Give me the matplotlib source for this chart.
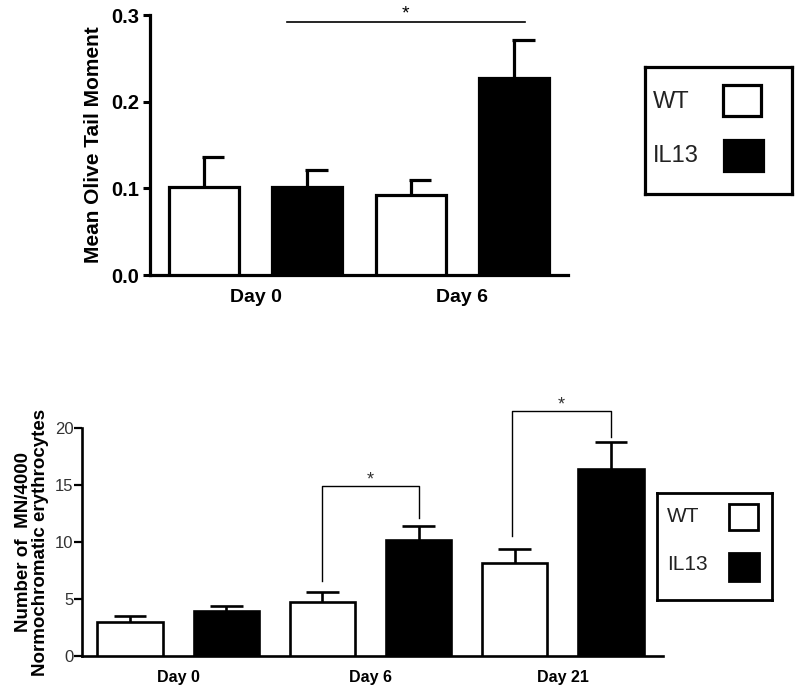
import numpy as np
import matplotlib.pyplot as plt
from matplotlib.patches import Rectangle

plt.rcParams['font.family'] = ['Liberation Sans', 'DejaVu Sans']

# top panel: comet assay
top_days = ["Day 0", "Day 6"]
top_wt = [0.101, 0.092]
top_wt_err = [0.035, 0.018]
top_il13 = [0.101, 0.227]
top_il13_err = [0.020, 0.044]

# bottom panel: micronuclei
bot_days = ["Day 0", "Day 6", "Day 21"]
bot_wt = [2.95, 4.7, 8.2]
bot_wt_err = [0.55, 0.9, 1.15]
bot_il13 = [3.95, 10.2, 16.4]
bot_il13_err = [0.45, 1.2, 2.4]

groups = ["WT", "IL13"]
colors = ["white", "black"]


def bars(ax, wt, wt_err, il, il_err, lw, cap_l, cap_r, width=0.68):
    n = len(wt)
    x_wt = np.arange(n) * 2
    x_il = x_wt + 1
    for xs, vals, errs, c in [(x_wt, wt, wt_err, colors[0]), (x_il, il, il_err, colors[1])]:
        vals = np.array(vals)
        errs = np.array(errs)
        ax.bar(xs, vals, width, color=c, edgecolor="black", linewidth=lw, zorder=3)
        ax.vlines(xs, vals, vals + errs, color="black", linewidth=lw, zorder=2)
        ax.hlines(vals + errs, xs - cap_l, xs + cap_r, color="black", linewidth=lw, zorder=2)
    return x_wt, x_il


def legend_box(rect, lw, fs, txt_x, txt_y, sq):
    lax = fig.add_axes(rect)
    lax.set_xlim(0, 1)
    lax.set_ylim(0, 1)
    lax.set_xticks([])
    lax.set_yticks([])
    for s in lax.spines.values():
        s.set_linewidth(lw)
    for i, g in enumerate(groups):
        lax.text(txt_x, txt_y[i], g, fontsize=fs, va="center", ha="left", color="#222222")
        x0, y0, w, h = sq[i]
        lax.add_patch(Rectangle((x0, y0), w, h, facecolor=colors[i], edgecolor="black", linewidth=lw))


fig = plt.figure(figsize=(8, 6.92), dpi=100)

# ---- top
ax1 = fig.add_axes([0.1875, 0.6026, 0.5225, 0.3757])
x_wt, x_il = bars(ax1, top_wt, top_wt_err, top_il13, top_il13_err, 2.3, 0.02, 0.2)
ax1.set_xlim(-0.52, 3.52)
ax1.set_ylim(0, 0.3)
ax1.set_yticks([0, 0.1, 0.2, 0.3])
ax1.set_yticklabels(["0.0", "0.1", "0.2", "0.3"], fontsize=14.5, fontweight="bold")
ax1.set_xticks((x_wt + x_il) / 2)
ax1.set_xticklabels(top_days, fontsize=14, fontweight="bold")
ax1.tick_params(axis="x", length=0, pad=10)
ax1.tick_params(axis="y", length=5, width=2.2, pad=3)
ax1.set_ylabel("Mean Olive Tail Moment", fontsize=15, fontweight="bold", labelpad=6)
for s in ["top", "right"]:
    ax1.spines[s].set_visible(False)
for s in ["left", "bottom"]:
    ax1.spines[s].set_linewidth(2.3)
# significance line
ax1.plot([0.80, 3.10], [0.292, 0.292], color="black", linewidth=1.2, clip_on=False)
ax1.text(1.95, 0.2915, "*", ha="center", va="bottom", fontsize=14)

legend_box([0.806, 0.7197, 0.184, 0.1835], 2.3, 17, 0.054, [0.724, 0.30],
           [(0.53, 0.614, 0.259, 0.244), (0.537, 0.181, 0.265, 0.244)])

# ---- bottom
ax2 = fig.add_axes([0.1025, 0.052, 0.726, 0.3295])
x_wt, x_il = bars(ax2, bot_wt, bot_wt_err, bot_il13, bot_il13_err, 1.9, 0.17, 0.17)
ax2.set_xlim(-0.5, 5.54)
ax2.set_ylim(0, 20)
ax2.set_yticks([0, 5, 10, 15, 20])
ax2.set_yticklabels(["0", "5", "10", "15", "20"], fontsize=12, color="#333333")
ax2.set_xticks((x_wt + x_il) / 2)
ax2.set_xticklabels(bot_days, fontsize=11.5, fontweight="bold")
ax2.tick_params(axis="x", length=0, pad=10)
ax2.tick_params(axis="y", length=6, width=1.6, pad=0)
ax2.set_ylabel("Number of  MN/4000\nNormochromatic erythrocytes", fontsize=13.5,
               fontweight="bold", labelpad=4, linespacing=1.05)
for s in ["top", "right"]:
    ax2.spines[s].set_visible(False)
for s in ["left", "bottom"]:
    ax2.spines[s].set_linewidth(1.9)
# significance brackets
brackets = [(2, 3, 6.6, 14.9, 12.1), (3.97, 5, 10.5, 21.5, 19.2)]
for xl, xr, yl, ytop, yr in brackets:
    ax2.plot([xl, xl, xr, xr], [yl, ytop, ytop, yr], color="black", linewidth=1.0, clip_on=False)
    ax2.text((xl + xr) / 2, ytop - 0.2, "*", ha="center", va="bottom", fontsize=13, color="#333333")

legend_box([0.821, 0.133, 0.144, 0.1546], 2.0, 15, 0.087, [0.776, 0.327],
           [(0.626, 0.654, 0.252, 0.243), (0.626, 0.178, 0.261, 0.261)])

fig.savefig("out.png", dpi=100)
